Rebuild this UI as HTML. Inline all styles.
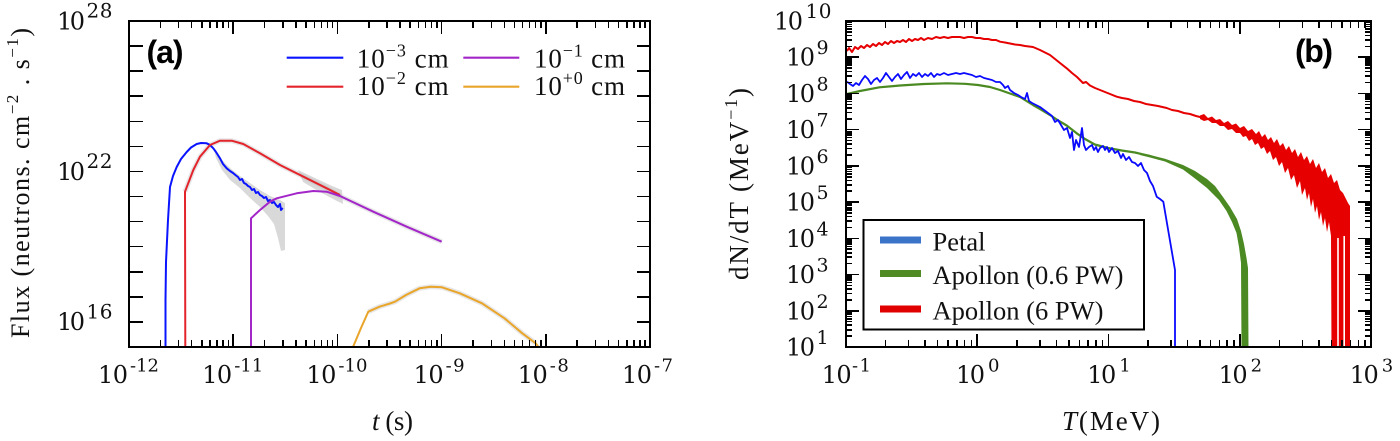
<!DOCTYPE html>
<html><head><meta charset="utf-8">
<style>
html,body{margin:0;padding:0;background:#fff;}
#w{position:relative;width:1400px;height:441px;overflow:hidden;background:#fff;}
#w svg{position:absolute;left:0;top:0;display:block;}
#ov{position:absolute;left:0;top:0;width:1400px;height:441px;}
#ov i,#ov b{position:absolute;display:block;background:#000;}
.vM{width:1.6px;height:13px;}
.vm{width:1.6px;height:7px;}
.hL{width:14px;height:1.6px;}
.hM{width:13px;height:1.6px;}
.hm{width:6px;height:1.6px;}
</style></head>
<body>
<div id="w">
<svg width="1400" height="441" viewBox="0 0 1400 441" xmlns="http://www.w3.org/2000/svg">

<!-- ================= LEFT PANEL DATA ================= -->
<polygon points="214,150 222,160 230,168 240,176 250,183 260,190 270,196 280,200 285,203 285,250 281,251 278,238 274,224 268,216 260,207 250,198 240,188 230,180 222,170 216,158" fill="#cfcfcf" opacity="0.8"/>
<polygon points="298,170 315,178 332,186 342,190 343,204 335,200 320,192 303,182" fill="#cfcfcf" opacity="0.8"/>
<g fill="none" stroke-linejoin="round" stroke-linecap="butt">
  <polyline stroke="#bbb" stroke-width="5" opacity="0.35" points="185,191.7 193.3,170 200,156.7 210,145 220,140.7 231.7,140.7 243.3,144 260,153.3 280,165 306.7,178.3 326.7,188.3 340,196 373.3,211.7 406.7,226.7 441.7,241.7"/>
  <polyline stroke="#bbb" stroke-width="5" opacity="0.35" points="368.3,311.7 379.5,306.7 395,301.7 406,295 419.6,288.3 430.8,286.7 442,287.3 459.8,293.3 482,303.3 504.5,318.3 522.3,333.3 535.7,343.3"/>
  <polyline stroke="#0a14ff" stroke-width="2" points="165.5,347 165.5,300 166,262 168,220 170,187 173,176 176.7,167 181,159 186.7,152 191,147.5 196.7,144 201,143 206.7,143.3 210,145 213.3,148.3 216,152 220,158.3 223,164 226.7,168.3 230,171 233,173 236,175.5 238,177 240,180 242,179 244,183 246,184 248,186 250,187 252,190 254,189 256,193 258,192 260,195 262,196 264,198 266,197 268,201 270,200 272,203 274,202 276,205 278,207 280,204 281,210 282.7,208"/>
  <polyline stroke="#e3242b" stroke-width="2" points="185.3,347 185,191.7 193.3,170 200,156.7 210,145 220,140.7 231.7,140.7 243.3,144 260,153.3 280,165 306.7,178.3 326.7,188.3 340,195"/>
  <polyline stroke="#a326c8" stroke-width="2" points="251,347 251,218.3 260,210 270,201.7 276.7,198.3 296.7,193.3 313.3,191 326.7,191.7 340,196 373.3,211.7 406.7,226.7 441.7,241.7"/>
  <polyline stroke="#e9a52a" stroke-width="2" points="353,347 361,328 368.3,311.7 379.5,306.7 390,303.5 395,301.7 406,295 419.6,288.3 430.8,286.7 442,287.3 459.8,293.3 482,303.3 504.5,318.3 522.3,333.3 535.7,343.3 538.5,347"/>
</g>

<!-- ================= RIGHT PANEL DATA ================= -->
<g fill="none" stroke-linejoin="round">
  <polyline stroke="#e60000" stroke-width="2" points="847,51 849,48 852,52 855,47 858,49 861,46 864,48 867,45 870,47 873,44 876,46 879,43 882,45 885,42 888,44 891,41 894,43 897,41 900,42 903,40 906,42 909,39 912,41 915,39 918,40 921,38 924,40 928,38 932,39 936,37 940,38 944,37 948,38 952,37 956,37 960,37 964,38 968,37 972,37 976,38 980,38 984,39 988,39 992,40 996,40 1000,41.7 1005,42.5 1010,43.5 1015,44.5 1020,45 1025,46 1033,47 1040,50 1045,52.5 1050,55 1055,59 1060,63 1066.7,68.3 1072,73 1077,77 1083,83 1086,82 1090,85.5 1095,88 1100,90 1105,92 1110,94 1116.7,96.7 1122,98 1128,99 1134,101 1140,102 1146,104 1152,105 1158,106 1166.7,108 1172,110 1178,111 1184,113 1190,114 1196,116 1200,117 1206,118.5"/>
  <polyline stroke="#4b8a22" stroke-width="2.2" points="847,94 860,91 879.5,87.3 900,85.5 924,84 947,83.3 965,83.8 978,85 990,87 1000,90 1010,93.5 1020,97 1033,105 1040,109 1050,115 1059,121 1066.7,125.5 1076.7,133.3 1085,139 1094.8,144.5 1108,148 1121.7,150.5 1135,152.5 1150,156 1160,159"/>
  <polyline stroke="#0a0aff" stroke-width="1.8" points="847,81.7 850,84 853,86 856,83 859,85 862,80 865,76 868,79 871,84 874,80 877,78 880,82 883,78 886,73 889,77 892,81 895,77 898,74 901,79 904,75 907,72 910,78 913,74 916,76 919,73 922,77 925,74 928,76 931,73 934,77 937,74 940,75 944,73 948,75 952,74 956,73 960,74 964,73 968,74 972,75 976,77 980,76 984,78 988,79 992,80 996,82 1000,82 1003,85 1005,88 1008,86 1010,90 1014,93 1018,95 1021,97 1025,99 1027,93 1029,101 1032,103 1036,105 1040,107 1044,110 1048,113 1052,116 1055,122 1058,120 1061,125 1064,130 1067,128 1070,138 1072,132 1074,150 1076,140 1079,147 1082,128 1084,145 1086,150 1089,147 1092,145 1094,150 1096,147 1098,152 1100,148 1103,146 1105,150 1107,147 1109,152 1112,148 1115,153 1118,151 1121,158 1123,154 1126,160 1129,157 1132,162 1135,163 1138,166 1141,163 1144,170 1147,173 1150,181 1153,186 1156.7,196.7 1160,199 1163.3,201.7 1169,235 1175,270 1175,347"/>
</g>
<polygon fill="#4b8a22" points="1140,153 1150,155 1165,158.8 1183,165 1195,171 1207,179 1215,186 1223,197 1230,207 1237,219 1241,231 1244,244 1246.5,258 1248,268 1248.5,347 1241.5,347 1241,263 1239,247 1236.5,233 1232,222 1226.5,211 1219,200 1207,188 1195,178.5 1183,169.5 1165,161.5 1150,157.5 1140,155"/>
<polygon fill="#e60000" points="1200,115.5 1204,114 1208,118 1212,116.5 1216,120 1220,119 1224,123 1228,121 1232,125 1236,123.5 1240,128 1244,126 1248,131 1252,129 1256,134 1259,131 1262,137 1265,134 1268,140 1271,137 1274,143 1277,139 1280,146 1283,143 1286,150 1289,146 1292,153 1295,149 1298,157 1301,152 1304,160 1307,156 1310,164 1313,159 1316,168 1319,163 1322,172 1325,168 1328,178 1331,174 1334,183 1337,180 1340,190 1343,193 1346,199 1348,203 1350,206 1350,347 1331.5,347 1331,236 1329,222 1327,232 1325,218 1323,226 1321,212 1319,220 1317,206 1315,213 1313,199 1311,207 1309,193 1307,200 1305,188 1302,195 1300,181 1297,188 1294,175 1291,180 1288,168 1285,173 1282,162 1279,166 1276,157 1273,160 1270,151 1267,154 1264,147 1261,149 1258,143 1255,145 1252,139 1249,141 1246,136 1243,137 1240,133 1236,133 1232,129 1228,130 1224,126 1220,126 1216,123 1212,123 1208,120 1204,121 1200,119"/>
<rect x="1337.2" y="238" width="1.6" height="109" fill="#fff"/>
<rect x="1343.4" y="236" width="1.6" height="111" fill="#fff"/>

<!-- SVG frames (backup) -->
<rect x="128" y="20" width="523" height="2" fill="#000"/>
<rect x="128" y="346" width="523" height="2" fill="#000"/>
<rect x="128" y="20" width="2" height="328" fill="#000"/>
<rect x="649" y="20" width="2" height="328" fill="#000"/>
<rect x="845" y="20" width="527" height="2" fill="#000"/>
<rect x="845" y="346" width="527" height="2" fill="#000"/>
<rect x="845" y="20" width="2" height="328" fill="#000"/>
<rect x="1370" y="20" width="2" height="328" fill="#000"/>

<!-- ================= LEGENDS ================= -->
<g stroke-width="2.2">
  <line x1="286.7" y1="57.7" x2="343.3" y2="57.7" stroke="#0a14ff"/>
  <line x1="286.7" y1="86.7" x2="343.3" y2="86.7" stroke="#e3242b"/>
  <line x1="463.3" y1="57.7" x2="519.3" y2="57.7" stroke="#a326c8"/>
  <line x1="463.3" y1="86.7" x2="519.3" y2="86.7" stroke="#e9a52a"/>
</g>
<rect x="862.5" y="219" width="282.5" height="111.5" fill="#000"/>
<rect x="864.5" y="221" width="278.5" height="107.5" fill="#fff"/>
<rect x="880" y="236.5" width="41" height="7" fill="#3b73c8"/>
<rect x="880" y="270" width="41" height="7" fill="#4f8a24"/>
<rect x="880" y="305.5" width="41" height="7" fill="#e00000"/>

<!-- ================= SERIF TEXT ================= -->
<g font-family="'Liberation Serif', 'DejaVu Serif', serif" fill="#111">
  <text x="356.7" y="67.7" font-size="27" textLength="92">10<tspan font-size="18" dy="-11">−3</tspan><tspan dy="11"> cm</tspan></text>
  <text x="356.7" y="95" font-size="27" textLength="92">10<tspan font-size="18" dy="-11">−2</tspan><tspan dy="11"> cm</tspan></text>
  <text x="534" y="67.7" font-size="27" textLength="91">10<tspan font-size="18" dy="-11">−1</tspan><tspan dy="11"> cm</tspan></text>
  <text x="534" y="95" font-size="27" textLength="91">10<tspan font-size="18" dy="-11">+0</tspan><tspan dy="11"> cm</tspan></text>

  <text x="932.5" y="250.5" font-size="26.5" textLength="53">Petal</text>
  <text x="932.5" y="284" font-size="26.5" textLength="191">Apollon (0.6 PW)</text>
  <text x="932.5" y="319.5" font-size="26.5" textLength="171">Apollon (6 PW)</text>

  <text x="372" y="430" font-size="27" textLength="41"><tspan font-style="italic">t</tspan> (s)</text>
  <text transform="translate(29,338) rotate(-90)" font-size="26" textLength="310">Flux (neutrons. cm<tspan font-size="17" dy="-11">−2</tspan><tspan dy="11"> . s</tspan><tspan font-size="17" dy="-11">−1</tspan><tspan dy="11">)</tspan></text>

  <text x="1062" y="430" font-size="27" textLength="98"><tspan font-style="italic">T</tspan>(MeV)</text>
  <text transform="translate(748,280) rotate(-90)" font-size="27" textLength="192">dN/dT (MeV<tspan font-size="18" dy="-11">−1</tspan><tspan dy="11">)</tspan></text>
</g>

<g font-family="'Liberation Sans', 'DejaVu Sans', sans-serif" font-weight="bold" font-size="32" fill="#000">
  <text x="146.5" y="63" textLength="37">(a)</text>
  <text x="1295" y="62" textLength="38">(b)</text>
</g>

<!-- ================= TICK LABELS ================= -->
<g font-family="'DejaVu Serif', 'Liberation Serif', serif" fill="#111">
  <text x="57" y="29.3" font-size="24" textLength="28">10</text><text x="86.5" y="17.5" font-size="20" textLength="26">28</text>
  <text x="57" y="179.8" font-size="24" textLength="28">10</text><text x="86.5" y="168" font-size="20" textLength="26">22</text>
  <text x="57" y="330.2" font-size="24" textLength="28">10</text><text x="86.5" y="318.4" font-size="20" textLength="26">16</text>

  <text x="98" y="383" font-size="24" textLength="30">10</text><text x="130" y="371.5" font-size="18" textLength="29">-12</text>
  <text x="202.2" y="383" font-size="24" textLength="30">10</text><text x="234.2" y="371.5" font-size="18" textLength="29">-11</text>
  <text x="306.4" y="383" font-size="24" textLength="30">10</text><text x="338.4" y="371.5" font-size="18" textLength="29">-10</text>
  <text x="413.6" y="383" font-size="24" textLength="30">10</text><text x="445.6" y="371.5" font-size="18" textLength="19">-9</text>
  <text x="517.8" y="383" font-size="24" textLength="30">10</text><text x="549.8" y="371.5" font-size="18" textLength="19">-8</text>
  <text x="622" y="383" font-size="24" textLength="30">10</text><text x="654" y="371.5" font-size="18" textLength="19">-7</text>

  <text x="774" y="29.5" font-size="24" textLength="29">10</text><text x="805.5" y="18" font-size="20" textLength="26">10</text>
  <text x="786" y="65.7" font-size="24" textLength="29">10</text><text x="816.5" y="54.2" font-size="19" textLength="12.5">9</text>
  <text x="786" y="101.9" font-size="24" textLength="29">10</text><text x="816.5" y="90.4" font-size="19" textLength="12.5">8</text>
  <text x="786" y="138.2" font-size="24" textLength="29">10</text><text x="816.5" y="126.7" font-size="19" textLength="12.5">7</text>
  <text x="786" y="174.4" font-size="24" textLength="29">10</text><text x="816.5" y="162.9" font-size="19" textLength="12.5">6</text>
  <text x="786" y="210.6" font-size="24" textLength="29">10</text><text x="816.5" y="199.1" font-size="19" textLength="12.5">5</text>
  <text x="786" y="246.8" font-size="24" textLength="29">10</text><text x="816.5" y="235.3" font-size="19" textLength="12.5">4</text>
  <text x="786" y="283.1" font-size="24" textLength="29">10</text><text x="816.5" y="271.6" font-size="19" textLength="12.5">3</text>
  <text x="786" y="319.3" font-size="24" textLength="29">10</text><text x="816.5" y="307.8" font-size="19" textLength="12.5">2</text>
  <text x="786" y="355.5" font-size="24" textLength="29">10</text><text x="816.5" y="344" font-size="19" textLength="12.5">1</text>

  <text x="821.7" y="383" font-size="24" textLength="30">10</text><text x="852" y="371.7" font-size="18" textLength="19">-1</text>
  <text x="956" y="383" font-size="24" textLength="29">10</text><text x="988" y="371.7" font-size="18" textLength="11.5">0</text>
  <text x="1087.3" y="383" font-size="24" textLength="29">10</text><text x="1119.3" y="371.7" font-size="18" textLength="11.5">1</text>
  <text x="1218.6" y="383" font-size="24" textLength="29">10</text><text x="1250.6" y="371.7" font-size="18" textLength="11.5">2</text>
  <text x="1349.8" y="383" font-size="24" textLength="29">10</text><text x="1381.8" y="371.7" font-size="18" textLength="11.5">3</text>
</g>
</svg>

<!-- ================= HTML OVERLAY: FRAMES & TICKS ================= -->
<div id="ov">
<b style="left:128px;top:20px;width:523px;height:2px"></b>
<b style="left:128px;top:346px;width:523px;height:2px"></b>
<b style="left:128px;top:20px;width:2px;height:328px"></b>
<b style="left:649px;top:20px;width:2px;height:328px"></b>
<b style="left:845px;top:20px;width:527px;height:2px"></b>
<b style="left:845px;top:346px;width:527px;height:2px"></b>
<b style="left:845px;top:20px;width:2px;height:328px"></b>
<b style="left:1370px;top:20px;width:2px;height:328px"></b>

<i class="vM" style="left:232.4px;top:334px"></i><i class="vM" style="left:336.6px;top:334px"></i><i class="vM" style="left:440.8px;top:334px"></i><i class="vM" style="left:545px;top:334px"></i>
<i class="vM" style="left:232.4px;top:21px"></i><i class="vM" style="left:336.6px;top:21px"></i><i class="vM" style="left:440.8px;top:21px"></i><i class="vM" style="left:545px;top:21px"></i>
<i class="vm" style="left:159.6px;top:340px"></i><i class="vm" style="left:177.9px;top:340px"></i><i class="vm" style="left:190.9px;top:340px"></i><i class="vm" style="left:201px;top:340px"></i><i class="vm" style="left:209.3px;top:340px"></i><i class="vm" style="left:216.3px;top:340px"></i><i class="vm" style="left:222.3px;top:340px"></i><i class="vm" style="left:227.6px;top:340px"></i>
<i class="vm" style="left:263.8px;top:340px"></i><i class="vm" style="left:282.1px;top:340px"></i><i class="vm" style="left:295.1px;top:340px"></i><i class="vm" style="left:305.2px;top:340px"></i><i class="vm" style="left:313.5px;top:340px"></i><i class="vm" style="left:320.5px;top:340px"></i><i class="vm" style="left:326.5px;top:340px"></i><i class="vm" style="left:331.8px;top:340px"></i>
<i class="vm" style="left:368px;top:340px"></i><i class="vm" style="left:386.3px;top:340px"></i><i class="vm" style="left:399.3px;top:340px"></i><i class="vm" style="left:409.4px;top:340px"></i><i class="vm" style="left:417.7px;top:340px"></i><i class="vm" style="left:424.7px;top:340px"></i><i class="vm" style="left:430.7px;top:340px"></i><i class="vm" style="left:436px;top:340px"></i>
<i class="vm" style="left:472.2px;top:340px"></i><i class="vm" style="left:490.5px;top:340px"></i><i class="vm" style="left:503.5px;top:340px"></i><i class="vm" style="left:513.6px;top:340px"></i><i class="vm" style="left:521.9px;top:340px"></i><i class="vm" style="left:528.9px;top:340px"></i><i class="vm" style="left:534.9px;top:340px"></i><i class="vm" style="left:540.2px;top:340px"></i>
<i class="vm" style="left:576.4px;top:340px"></i><i class="vm" style="left:594.7px;top:340px"></i><i class="vm" style="left:607.7px;top:340px"></i><i class="vm" style="left:617.8px;top:340px"></i><i class="vm" style="left:626.1px;top:340px"></i><i class="vm" style="left:633.1px;top:340px"></i><i class="vm" style="left:639.1px;top:340px"></i><i class="vm" style="left:644.4px;top:340px"></i>
<i class="vm" style="left:159.6px;top:21px"></i><i class="vm" style="left:177.9px;top:21px"></i><i class="vm" style="left:190.9px;top:21px"></i><i class="vm" style="left:201px;top:21px"></i><i class="vm" style="left:209.3px;top:21px"></i><i class="vm" style="left:216.3px;top:21px"></i><i class="vm" style="left:222.3px;top:21px"></i><i class="vm" style="left:227.6px;top:21px"></i>
<i class="vm" style="left:263.8px;top:21px"></i><i class="vm" style="left:282.1px;top:21px"></i><i class="vm" style="left:295.1px;top:21px"></i><i class="vm" style="left:305.2px;top:21px"></i><i class="vm" style="left:313.5px;top:21px"></i><i class="vm" style="left:320.5px;top:21px"></i><i class="vm" style="left:326.5px;top:21px"></i><i class="vm" style="left:331.8px;top:21px"></i>
<i class="vm" style="left:368px;top:21px"></i><i class="vm" style="left:386.3px;top:21px"></i><i class="vm" style="left:399.3px;top:21px"></i><i class="vm" style="left:409.4px;top:21px"></i><i class="vm" style="left:417.7px;top:21px"></i><i class="vm" style="left:424.7px;top:21px"></i><i class="vm" style="left:430.7px;top:21px"></i><i class="vm" style="left:436px;top:21px"></i>
<i class="vm" style="left:472.2px;top:21px"></i><i class="vm" style="left:490.5px;top:21px"></i><i class="vm" style="left:503.5px;top:21px"></i><i class="vm" style="left:513.6px;top:21px"></i><i class="vm" style="left:521.9px;top:21px"></i><i class="vm" style="left:528.9px;top:21px"></i><i class="vm" style="left:534.9px;top:21px"></i><i class="vm" style="left:540.2px;top:21px"></i>
<i class="vm" style="left:576.4px;top:21px"></i><i class="vm" style="left:594.7px;top:21px"></i><i class="vm" style="left:607.7px;top:21px"></i><i class="vm" style="left:617.8px;top:21px"></i><i class="vm" style="left:626.1px;top:21px"></i><i class="vm" style="left:633.1px;top:21px"></i><i class="vm" style="left:639.1px;top:21px"></i><i class="vm" style="left:644.4px;top:21px"></i>
<i class="hL" style="left:129px;top:45.28px"></i><i class="hL" style="left:129px;top:70.35px"></i><i class="hL" style="left:129px;top:95.43px"></i><i class="hL" style="left:129px;top:120.51px"></i><i class="hL" style="left:129px;top:145.58px"></i><i class="hL" style="left:129px;top:170.66px"></i><i class="hL" style="left:129px;top:195.74px"></i><i class="hL" style="left:129px;top:220.82px"></i><i class="hL" style="left:129px;top:245.89px"></i><i class="hL" style="left:129px;top:270.97px"></i><i class="hL" style="left:129px;top:296.05px"></i><i class="hL" style="left:129px;top:321.12px"></i>
<i class="hM" style="left:637px;top:45.28px"></i><i class="hM" style="left:637px;top:70.35px"></i><i class="hM" style="left:637px;top:95.43px"></i><i class="hM" style="left:637px;top:120.51px"></i><i class="hM" style="left:637px;top:145.58px"></i><i class="hM" style="left:637px;top:170.66px"></i><i class="hM" style="left:637px;top:195.74px"></i><i class="hM" style="left:637px;top:220.82px"></i><i class="hM" style="left:637px;top:245.89px"></i><i class="hM" style="left:637px;top:270.97px"></i><i class="hM" style="left:637px;top:296.05px"></i><i class="hM" style="left:637px;top:321.12px"></i>

<i class="vM" style="left:976.45px;top:334px"></i><i class="vM" style="left:1107.7px;top:334px"></i><i class="vM" style="left:1238.95px;top:334px"></i>
<i class="vM" style="left:976.45px;top:21px"></i><i class="vM" style="left:1107.7px;top:21px"></i><i class="vM" style="left:1238.95px;top:21px"></i>
<i class="vm" style="left:884.7px;top:340px"></i><i class="vm" style="left:907.8px;top:340px"></i><i class="vm" style="left:924.2px;top:340px"></i><i class="vm" style="left:936.9px;top:340px"></i><i class="vm" style="left:947.3px;top:340px"></i><i class="vm" style="left:956.1px;top:340px"></i><i class="vm" style="left:963.7px;top:340px"></i><i class="vm" style="left:970.5px;top:340px"></i>
<i class="vm" style="left:1016px;top:340px"></i><i class="vm" style="left:1039.1px;top:340px"></i><i class="vm" style="left:1055.5px;top:340px"></i><i class="vm" style="left:1068.2px;top:340px"></i><i class="vm" style="left:1078.6px;top:340px"></i><i class="vm" style="left:1087.4px;top:340px"></i><i class="vm" style="left:1095px;top:340px"></i><i class="vm" style="left:1101.7px;top:340px"></i>
<i class="vm" style="left:1147.2px;top:340px"></i><i class="vm" style="left:1170.3px;top:340px"></i><i class="vm" style="left:1186.7px;top:340px"></i><i class="vm" style="left:1199.4px;top:340px"></i><i class="vm" style="left:1209.8px;top:340px"></i><i class="vm" style="left:1218.6px;top:340px"></i><i class="vm" style="left:1226.2px;top:340px"></i><i class="vm" style="left:1233px;top:340px"></i>
<i class="vm" style="left:1278.5px;top:340px"></i><i class="vm" style="left:1301.6px;top:340px"></i><i class="vm" style="left:1318px;top:340px"></i><i class="vm" style="left:1330.7px;top:340px"></i><i class="vm" style="left:1341.1px;top:340px"></i><i class="vm" style="left:1349.9px;top:340px"></i><i class="vm" style="left:1357.5px;top:340px"></i><i class="vm" style="left:1364.2px;top:340px"></i>
<i class="vm" style="left:884.7px;top:21px"></i><i class="vm" style="left:907.8px;top:21px"></i><i class="vm" style="left:924.2px;top:21px"></i><i class="vm" style="left:936.9px;top:21px"></i><i class="vm" style="left:947.3px;top:21px"></i><i class="vm" style="left:956.1px;top:21px"></i><i class="vm" style="left:963.7px;top:21px"></i><i class="vm" style="left:970.5px;top:21px"></i>
<i class="vm" style="left:1016px;top:21px"></i><i class="vm" style="left:1039.1px;top:21px"></i><i class="vm" style="left:1055.5px;top:21px"></i><i class="vm" style="left:1068.2px;top:21px"></i><i class="vm" style="left:1078.6px;top:21px"></i><i class="vm" style="left:1087.4px;top:21px"></i><i class="vm" style="left:1095px;top:21px"></i><i class="vm" style="left:1101.7px;top:21px"></i>
<i class="vm" style="left:1147.2px;top:21px"></i><i class="vm" style="left:1170.3px;top:21px"></i><i class="vm" style="left:1186.7px;top:21px"></i><i class="vm" style="left:1199.4px;top:21px"></i><i class="vm" style="left:1209.8px;top:21px"></i><i class="vm" style="left:1218.6px;top:21px"></i><i class="vm" style="left:1226.2px;top:21px"></i><i class="vm" style="left:1233px;top:21px"></i>
<i class="vm" style="left:1278.5px;top:21px"></i><i class="vm" style="left:1301.6px;top:21px"></i><i class="vm" style="left:1318px;top:21px"></i><i class="vm" style="left:1330.7px;top:21px"></i><i class="vm" style="left:1341.1px;top:21px"></i><i class="vm" style="left:1349.9px;top:21px"></i><i class="vm" style="left:1357.5px;top:21px"></i><i class="vm" style="left:1364.2px;top:21px"></i>
<i class="hM" style="left:846px;top:309.98px"></i><i class="hM" style="left:846px;top:273.76px"></i><i class="hM" style="left:846px;top:237.53px"></i><i class="hM" style="left:846px;top:201.31px"></i><i class="hM" style="left:846px;top:165.09px"></i><i class="hM" style="left:846px;top:128.87px"></i><i class="hM" style="left:846px;top:92.64px"></i><i class="hM" style="left:846px;top:56.42px"></i>
<i class="hM" style="left:1358px;top:309.98px"></i><i class="hM" style="left:1358px;top:273.76px"></i><i class="hM" style="left:1358px;top:237.53px"></i><i class="hM" style="left:1358px;top:201.31px"></i><i class="hM" style="left:1358px;top:165.09px"></i><i class="hM" style="left:1358px;top:128.87px"></i><i class="hM" style="left:1358px;top:92.64px"></i><i class="hM" style="left:1358px;top:56.42px"></i>
<i class="hm" style="left:846px;top:335.3px"></i><i class="hm" style="left:846px;top:328.92px"></i><i class="hm" style="left:846px;top:324.39px"></i><i class="hm" style="left:846px;top:320.88px"></i><i class="hm" style="left:846px;top:318.01px"></i><i class="hm" style="left:846px;top:315.59px"></i><i class="hm" style="left:846px;top:313.49px"></i><i class="hm" style="left:846px;top:311.63px"></i>
<i class="hm" style="left:846px;top:299.08px"></i><i class="hm" style="left:846px;top:292.7px"></i><i class="hm" style="left:846px;top:288.17px"></i><i class="hm" style="left:846px;top:284.66px"></i><i class="hm" style="left:846px;top:281.79px"></i><i class="hm" style="left:846px;top:279.37px"></i><i class="hm" style="left:846px;top:277.27px"></i><i class="hm" style="left:846px;top:275.41px"></i>
<i class="hm" style="left:846px;top:262.86px"></i><i class="hm" style="left:846px;top:256.48px"></i><i class="hm" style="left:846px;top:251.95px"></i><i class="hm" style="left:846px;top:248.44px"></i><i class="hm" style="left:846px;top:245.57px"></i><i class="hm" style="left:846px;top:243.15px"></i><i class="hm" style="left:846px;top:241.05px"></i><i class="hm" style="left:846px;top:239.19px"></i>
<i class="hm" style="left:846px;top:226.63px"></i><i class="hm" style="left:846px;top:220.25px"></i><i class="hm" style="left:846px;top:215.72px"></i><i class="hm" style="left:846px;top:212.21px"></i><i class="hm" style="left:846px;top:209.34px"></i><i class="hm" style="left:846px;top:206.92px"></i><i class="hm" style="left:846px;top:204.82px"></i><i class="hm" style="left:846px;top:202.96px"></i>
<i class="hm" style="left:846px;top:190.41px"></i><i class="hm" style="left:846px;top:184.03px"></i><i class="hm" style="left:846px;top:179.5px"></i><i class="hm" style="left:846px;top:175.99px"></i><i class="hm" style="left:846px;top:173.12px"></i><i class="hm" style="left:846px;top:170.7px"></i><i class="hm" style="left:846px;top:168.6px"></i><i class="hm" style="left:846px;top:166.74px"></i>
<i class="hm" style="left:846px;top:154.19px"></i><i class="hm" style="left:846px;top:147.81px"></i><i class="hm" style="left:846px;top:143.28px"></i><i class="hm" style="left:846px;top:139.77px"></i><i class="hm" style="left:846px;top:136.9px"></i><i class="hm" style="left:846px;top:134.48px"></i><i class="hm" style="left:846px;top:132.38px"></i><i class="hm" style="left:846px;top:130.52px"></i>
<i class="hm" style="left:846px;top:117.97px"></i><i class="hm" style="left:846px;top:111.59px"></i><i class="hm" style="left:846px;top:107.06px"></i><i class="hm" style="left:846px;top:103.55px"></i><i class="hm" style="left:846px;top:100.68px"></i><i class="hm" style="left:846px;top:98.26px"></i><i class="hm" style="left:846px;top:96.16px"></i><i class="hm" style="left:846px;top:94.3px"></i>
<i class="hm" style="left:846px;top:81.74px"></i><i class="hm" style="left:846px;top:75.36px"></i><i class="hm" style="left:846px;top:70.83px"></i><i class="hm" style="left:846px;top:67.32px"></i><i class="hm" style="left:846px;top:64.45px"></i><i class="hm" style="left:846px;top:62.03px"></i><i class="hm" style="left:846px;top:59.93px"></i><i class="hm" style="left:846px;top:58.07px"></i>
<i class="hm" style="left:846px;top:45.52px"></i><i class="hm" style="left:846px;top:39.14px"></i><i class="hm" style="left:846px;top:34.61px"></i><i class="hm" style="left:846px;top:31.1px"></i><i class="hm" style="left:846px;top:28.23px"></i><i class="hm" style="left:846px;top:25.81px"></i><i class="hm" style="left:846px;top:23.71px"></i><i class="hm" style="left:846px;top:21.85px"></i>
<i class="hm" style="left:1365px;top:335.3px"></i><i class="hm" style="left:1365px;top:328.92px"></i><i class="hm" style="left:1365px;top:324.39px"></i><i class="hm" style="left:1365px;top:320.88px"></i><i class="hm" style="left:1365px;top:318.01px"></i><i class="hm" style="left:1365px;top:315.59px"></i><i class="hm" style="left:1365px;top:313.49px"></i><i class="hm" style="left:1365px;top:311.63px"></i>
<i class="hm" style="left:1365px;top:299.08px"></i><i class="hm" style="left:1365px;top:292.7px"></i><i class="hm" style="left:1365px;top:288.17px"></i><i class="hm" style="left:1365px;top:284.66px"></i><i class="hm" style="left:1365px;top:281.79px"></i><i class="hm" style="left:1365px;top:279.37px"></i><i class="hm" style="left:1365px;top:277.27px"></i><i class="hm" style="left:1365px;top:275.41px"></i>
<i class="hm" style="left:1365px;top:262.86px"></i><i class="hm" style="left:1365px;top:256.48px"></i><i class="hm" style="left:1365px;top:251.95px"></i><i class="hm" style="left:1365px;top:248.44px"></i><i class="hm" style="left:1365px;top:245.57px"></i><i class="hm" style="left:1365px;top:243.15px"></i><i class="hm" style="left:1365px;top:241.05px"></i><i class="hm" style="left:1365px;top:239.19px"></i>
<i class="hm" style="left:1365px;top:226.63px"></i><i class="hm" style="left:1365px;top:220.25px"></i><i class="hm" style="left:1365px;top:215.72px"></i><i class="hm" style="left:1365px;top:212.21px"></i><i class="hm" style="left:1365px;top:209.34px"></i><i class="hm" style="left:1365px;top:206.92px"></i><i class="hm" style="left:1365px;top:204.82px"></i><i class="hm" style="left:1365px;top:202.96px"></i>
<i class="hm" style="left:1365px;top:190.41px"></i><i class="hm" style="left:1365px;top:184.03px"></i><i class="hm" style="left:1365px;top:179.5px"></i><i class="hm" style="left:1365px;top:175.99px"></i><i class="hm" style="left:1365px;top:173.12px"></i><i class="hm" style="left:1365px;top:170.7px"></i><i class="hm" style="left:1365px;top:168.6px"></i><i class="hm" style="left:1365px;top:166.74px"></i>
<i class="hm" style="left:1365px;top:154.19px"></i><i class="hm" style="left:1365px;top:147.81px"></i><i class="hm" style="left:1365px;top:143.28px"></i><i class="hm" style="left:1365px;top:139.77px"></i><i class="hm" style="left:1365px;top:136.9px"></i><i class="hm" style="left:1365px;top:134.48px"></i><i class="hm" style="left:1365px;top:132.38px"></i><i class="hm" style="left:1365px;top:130.52px"></i>
<i class="hm" style="left:1365px;top:117.97px"></i><i class="hm" style="left:1365px;top:111.59px"></i><i class="hm" style="left:1365px;top:107.06px"></i><i class="hm" style="left:1365px;top:103.55px"></i><i class="hm" style="left:1365px;top:100.68px"></i><i class="hm" style="left:1365px;top:98.26px"></i><i class="hm" style="left:1365px;top:96.16px"></i><i class="hm" style="left:1365px;top:94.3px"></i>
<i class="hm" style="left:1365px;top:81.74px"></i><i class="hm" style="left:1365px;top:75.36px"></i><i class="hm" style="left:1365px;top:70.83px"></i><i class="hm" style="left:1365px;top:67.32px"></i><i class="hm" style="left:1365px;top:64.45px"></i><i class="hm" style="left:1365px;top:62.03px"></i><i class="hm" style="left:1365px;top:59.93px"></i><i class="hm" style="left:1365px;top:58.07px"></i>
<i class="hm" style="left:1365px;top:45.52px"></i><i class="hm" style="left:1365px;top:39.14px"></i><i class="hm" style="left:1365px;top:34.61px"></i><i class="hm" style="left:1365px;top:31.1px"></i><i class="hm" style="left:1365px;top:28.23px"></i><i class="hm" style="left:1365px;top:25.81px"></i><i class="hm" style="left:1365px;top:23.71px"></i><i class="hm" style="left:1365px;top:21.85px"></i>
</div>
</div>
</body></html>
